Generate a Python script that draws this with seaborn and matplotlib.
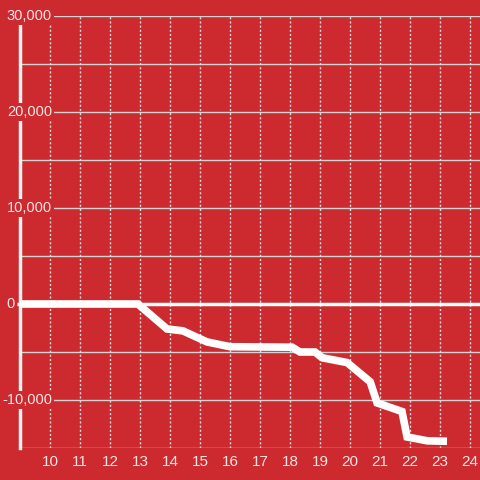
import pandas as pd
import matplotlib
matplotlib.use('Agg')
import matplotlib.pyplot as plt
import seaborn as sns

# hour of day vs running total
hours = [9.0, 12.93, 13.9, 14.43, 15.23, 16.0, 18.07, 18.33, 18.83, 19.07,
         19.9, 20.67, 20.9, 21.73, 21.9, 22.57, 23.23]
values = [0, 0, -2600, -2800, -3950, -4450, -4500, -5000, -5000, -5600,
          -6100, -8100, -10300, -11200, -13850, -14250, -14300]
x_ticks = list(range(10, 25))
y_ticks = [-10000, 10000, 20000, 30000]
y_grid = list(range(-15000, 30001, 5000))

bg = '#cc2a2f'
txt = '#f7e4e4'

sns.set_style("white")
plt.rcParams['font.family'] = ['Liberation Sans', 'DejaVu Sans']

df = pd.DataFrame({'hour': hours, 'value': values})

fig = plt.figure(figsize=(4.8, 4.8), dpi=100, facecolor=bg)
ax = fig.add_axes([20 / 480, 32 / 480, 460 / 480, 432 / 480])
ax.set_facecolor(bg)

ax.set_xlim(9, 24.33)
ax.set_ylim(-15000, 30000)

for y in y_grid:
    if y != 0:
        ax.axhline(y, color='#d4d4d4', lw=1.0, zorder=1)
for x in x_ticks:
    ax.axvline(x, color='#dddddd', lw=1.0, ls=(0, (1.5, 1.5)), zorder=1)

sns.lineplot(data=df, x='hour', y='value', ax=ax, color='white', lw=5.5,
             zorder=3, solid_capstyle='butt', solid_joinstyle='miter')

for s in ['top', 'right', 'bottom']:
    ax.spines[s].set_visible(False)
ax.spines['left'].set_color('#f2f2f2')
ax.spines['left'].set_linewidth(2.5)
ax.spines['left'].set_zorder(4)

ax.set_xticks(x_ticks)
ax.set_xticklabels([str(x) for x in x_ticks])
ax.set_yticks([])
ax.tick_params(axis='x', length=0, pad=5, labelsize=11, colors=txt)
ax.set_xlabel('')
ax.set_ylabel('')

# y labels sit over the axis line with a background patch
for y in y_ticks:
    ax.text((52 - 20) / 460, y, f'{y:,}', transform=ax.get_yaxis_transform(),
            ha='right', va='center', fontsize=10.5, color=txt, zorder=5,
            bbox=dict(facecolor=bg, edgecolor='none', pad=1.5))
ax.text((15 - 20) / 460, 0, '0', transform=ax.get_yaxis_transform(),
        ha='right', va='center', fontsize=10.5, color=txt, clip_on=False)

# zero line, slightly past the axis
ax.plot([(17 - 20) / 460, 1], [0, 0], transform=ax.get_yaxis_transform(),
        color='white', lw=2.5, zorder=6, clip_on=False, solid_capstyle='butt')

plt.savefig('out.png', dpi=100, facecolor=bg)
